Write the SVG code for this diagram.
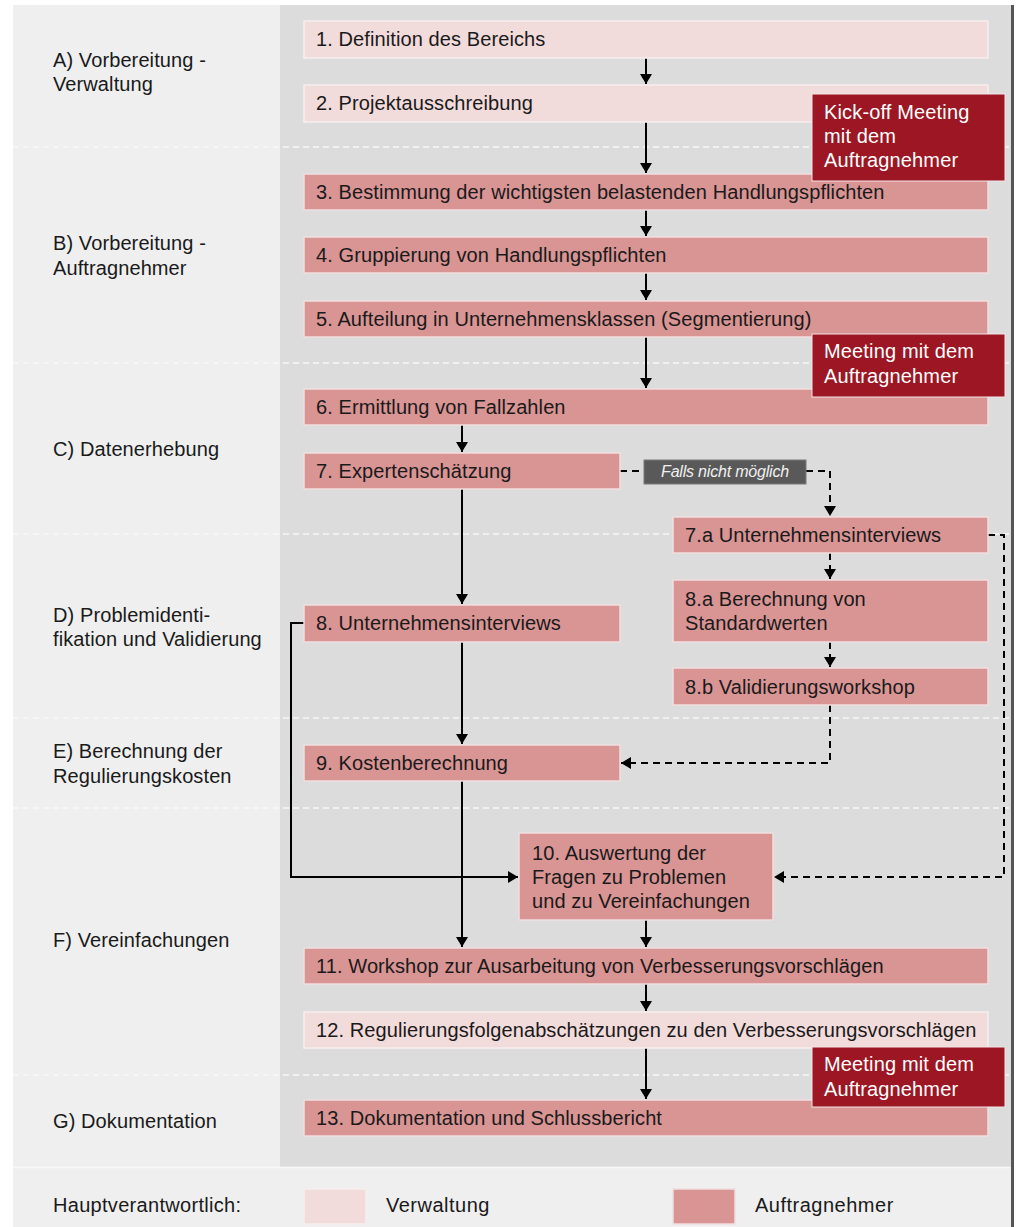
<svg xmlns="http://www.w3.org/2000/svg" width="1020" height="1227" viewBox="0 0 1020 1227">
<defs>
<marker id="ah" viewBox="0 0 10 12" refX="10" refY="6" markerWidth="10" markerHeight="12" markerUnits="userSpaceOnUse" orient="auto">
<path d="M0,0 L10,6 L0,12 Z" fill="#000"/>
</marker>
<style>
text{font-family:"Liberation Sans",Arial,sans-serif;fill:#1a1a1a}
.lbl{font-size:20px;letter-spacing:0.1px}
.bt{font-size:20px;letter-spacing:0.1px}
.wt{font-size:20px;fill:#fff;letter-spacing:0.15px}
.lg{font-size:20px;letter-spacing:0.5px}
.light{fill:#f2dbdb;stroke:#f6eeee;stroke-width:1.5}
.med{fill:#d99494;stroke:#f0dede;stroke-width:1.5}
.dark{fill:#9c1623;stroke:#f3e6e6;stroke-width:1}
.sep{stroke:#f7f7f7;stroke-width:1.5;stroke-dasharray:6,4;fill:none}
.ln{stroke:#000;stroke-width:2;fill:none}
.dl{stroke:#000;stroke-width:2;fill:none;stroke-dasharray:7,5}
</style>
</defs>
<rect x="0" y="0" width="1020" height="1227" fill="#fff"/>
<rect x="13" y="5" width="999" height="1222" fill="#efefef"/>
<rect x="280" y="5" width="732" height="1162" fill="#dcdcdc"/>
<line x1="13" y1="1167.5" x2="1012" y2="1167.5" stroke="#f8f8f8" stroke-width="1.5"/>
<rect x="1011" y="5" width="3" height="1222" fill="#555"/>
<g id="separators">
<line class="sep" x1="13" y1="147" x2="1010" y2="147"/>
<line class="sep" x1="13" y1="363" x2="1010" y2="363"/>
<line class="sep" x1="13" y1="534" x2="1010" y2="534"/>
<line class="sep" x1="13" y1="718" x2="1010" y2="718"/>
<line class="sep" x1="13" y1="808" x2="1010" y2="808"/>
<line class="sep" x1="13" y1="1075" x2="1010" y2="1075"/>
</g>
<g id="phase-labels">
<text class="lbl" x="53" y="67">A) Vorbereitung -</text>
<text class="lbl" x="53" y="91">Verwaltung</text>
<text class="lbl" x="53" y="250">B) Vorbereitung -</text>
<text class="lbl" x="53" y="275">Auftragnehmer</text>
<text class="lbl" x="53" y="456">C) Datenerhebung</text>
<text class="lbl" x="53" y="622">D) Problemidenti-</text>
<text class="lbl" x="53" y="646">fikation und Validierung</text>
<text class="lbl" x="53" y="758">E) Berechnung der</text>
<text class="lbl" x="53" y="783">Regulierungskosten</text>
<text class="lbl" x="53" y="947">F) Vereinfachungen</text>
<text class="lbl" x="53" y="1128">G) Dokumentation</text>
</g>
<g id="connectors">
<line class="ln" x1="646" y1="58" x2="646" y2="84" marker-end="url(#ah)"/>
<line class="ln" x1="646" y1="122" x2="646" y2="173" marker-end="url(#ah)"/>
<line class="ln" x1="646" y1="210" x2="646" y2="236" marker-end="url(#ah)"/>
<line class="ln" x1="646" y1="273" x2="646" y2="300" marker-end="url(#ah)"/>
<line class="ln" x1="646" y1="337" x2="646" y2="388" marker-end="url(#ah)"/>
<line class="ln" x1="462" y1="425" x2="462" y2="452" marker-end="url(#ah)"/>
<line class="ln" x1="462" y1="489" x2="462" y2="604" marker-end="url(#ah)"/>
<line class="ln" x1="462" y1="642" x2="462" y2="744" marker-end="url(#ah)"/>
<line class="ln" x1="462" y1="781" x2="462" y2="947" marker-end="url(#ah)"/>
<polyline class="ln" points="304,623 291,623 291,877 518,877" marker-end="url(#ah)"/>
<line class="ln" x1="646" y1="920" x2="646" y2="947" marker-end="url(#ah)"/>
<line class="ln" x1="646" y1="984" x2="646" y2="1011" marker-end="url(#ah)"/>
<line class="ln" x1="646" y1="1048" x2="646" y2="1099" marker-end="url(#ah)"/>
<line class="dl" x1="620" y1="471" x2="644" y2="471"/>
<polyline class="dl" points="806,471 830,471 830,516" marker-end="url(#ah)"/>
<line class="dl" x1="830" y1="553" x2="830" y2="579" marker-end="url(#ah)"/>
<line class="dl" x1="830" y1="642" x2="830" y2="667" marker-end="url(#ah)"/>
<polyline class="dl" points="830,705 830,763 621,763" marker-end="url(#ah)"/>
<polyline class="dl" points="988,535 1004,535 1004,877 774,877" marker-end="url(#ah)"/>
<g id="label-falls">
<rect x="644" y="460" width="162" height="24" fill="#595959" stroke="#7a7a7a" stroke-width="1"/>
<text x="725" y="477" text-anchor="middle" style="font-size:16px;font-style:italic;fill:#f0f0f0;letter-spacing:-0.2px">Falls nicht möglich</text>
</g>
</g>
<g id="n1"><rect class="light" x="304" y="21" width="684" height="37"/><text class="bt" x="316" y="46">1. Definition des Bereichs</text></g>
<g id="n2"><rect class="light" x="304" y="85" width="684" height="37"/><text class="bt" x="316" y="110">2. Projektausschreibung</text></g>
<g id="n3"><rect class="med" x="304" y="174" width="684" height="36"/><text class="bt" x="316" y="199">3. Bestimmung der wichtigsten belastenden Handlungspflichten</text></g>
<g id="n4"><rect class="med" x="304" y="237" width="684" height="36"/><text class="bt" x="316" y="262">4. Gruppierung von Handlungspflichten</text></g>
<g id="n5"><rect class="med" x="304" y="301" width="684" height="36"/><text class="bt" x="316" y="326">5. Aufteilung in Unternehmensklassen (Segmentierung)</text></g>
<g id="n6"><rect class="med" x="304" y="389" width="684" height="36"/><text class="bt" x="316" y="414">6. Ermittlung von Fallzahlen</text></g>
<g id="n7"><rect class="med" x="304" y="453" width="316" height="36"/><text class="bt" x="316" y="478">7. Expertenschätzung</text></g>
<g id="n7a"><rect class="med" x="673" y="517" width="315" height="36"/><text class="bt" x="685" y="542">7.a Unternehmensinterviews</text></g>
<g id="n8a"><rect class="med" x="673" y="580" width="315" height="62"/><text class="bt" x="685" y="606">8.a Berechnung von</text><text class="bt" x="685" y="630">Standardwerten</text></g>
<g id="n8b"><rect class="med" x="673" y="668" width="315" height="37"/><text class="bt" x="685" y="694">8.b Validierungsworkshop</text></g>
<g id="n8"><rect class="med" x="304" y="605" width="316" height="37"/><text class="bt" x="316" y="630">8. Unternehmensinterviews</text></g>
<g id="n9"><rect class="med" x="304" y="745" width="316" height="36"/><text class="bt" x="316" y="770">9. Kostenberechnung</text></g>
<g id="n10"><rect class="med" x="519" y="833" width="254" height="87"/><text class="bt" x="532" y="860">10. Auswertung der</text><text class="bt" x="532" y="884">Fragen zu Problemen</text><text class="bt" x="532" y="908">und zu Vereinfachungen</text></g>
<g id="n11"><rect class="med" x="304" y="948" width="684" height="36"/><text class="bt" x="316" y="973">11. Workshop zur Ausarbeitung von Verbesserungsvorschlägen</text></g>
<g id="n12"><rect class="light" x="304" y="1012" width="684" height="36"/><text class="bt" x="316" y="1037">12. Regulierungsfolgenabschätzungen zu den Verbesserungsvorschlägen</text></g>
<g id="n13"><rect class="med" x="304" y="1100" width="684" height="36"/><text class="bt" x="316" y="1125">13. Dokumentation und Schlussbericht</text></g>
<g id="m1"><rect class="dark" x="812" y="94" width="193" height="87"/><text class="wt" x="824" y="119">Kick-off Meeting</text><text class="wt" x="824" y="143">mit dem</text><text class="wt" x="824" y="167">Auftragnehmer</text></g>
<g id="m2"><rect class="dark" x="812" y="334" width="193" height="63"/><text class="wt" x="824" y="358">Meeting mit dem</text><text class="wt" x="824" y="383">Auftragnehmer</text></g>
<g id="m3"><rect class="dark" x="812" y="1047" width="193" height="60"/><text class="wt" x="824" y="1071">Meeting mit dem</text><text class="wt" x="824" y="1096">Auftragnehmer</text></g>
<g id="legend">
<text class="lbl" x="53" y="1212" style="letter-spacing:0.3px">Hauptverantwortlich:</text>
<rect class="light" x="304" y="1189" width="62" height="35"/>
<text class="lg" x="386" y="1212">Verwaltung</text>
<rect class="med" x="673" y="1189" width="62" height="35"/>
<text class="lg" x="755" y="1212">Auftragnehmer</text>
</g>
</svg>
